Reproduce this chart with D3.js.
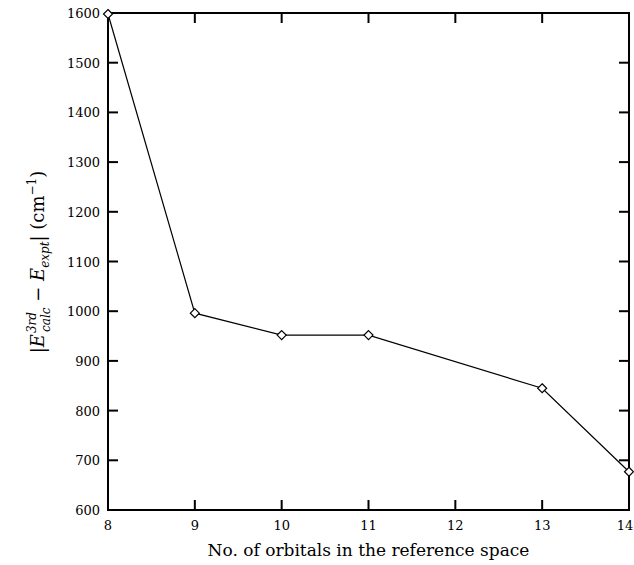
<!DOCTYPE html>
<html><head><meta charset="utf-8">
<script src="https://cdn.jsdelivr.net/npm/d3@7"></script>
<style>body{margin:0;background:#fff}</style>
</head><body>
<svg id="c" width="634" height="565"></svg>
<script>
const orbitals = [8, 9, 10, 11, 13, 14];
const errors = [1598, 996, 952, 952, 845, 677];
const xTicks = [8, 9, 10, 11, 12, 13, 14];
const yTicks = [600, 700, 800, 900, 1000, 1100, 1200, 1300, 1400, 1500, 1600];

const svg = d3.select("#c");
const m = {l:108, r:629, t:13, b:510};
const x = d3.scaleLinear().domain([8,14]).range([m.l, m.r]);
const y = d3.scaleLinear().domain([600,1600]).range([m.b, m.t]);
const font = "'DejaVu Serif', 'Liberation Serif', serif";

const tl = 10;
// ticks
const g = svg.append("g").attr("stroke","#000").attr("stroke-width",2);
xTicks.forEach(t=>{
  g.append("line").attr("x1",x(t)).attr("x2",x(t)).attr("y1",m.b).attr("y2",m.b-tl);
  g.append("line").attr("x1",x(t)).attr("x2",x(t)).attr("y1",m.t).attr("y2",m.t+tl);
});
yTicks.forEach(t=>{
  g.append("line").attr("x1",m.l).attr("x2",m.l+tl).attr("y1",y(t)).attr("y2",y(t));
  g.append("line").attr("x1",m.r).attr("x2",m.r-tl).attr("y1",y(t)).attr("y2",y(t));
});
svg.append("rect").attr("x",m.l).attr("y",m.t).attr("width",m.r-m.l).attr("height",m.b-m.t)
  .attr("fill","none").attr("stroke","#000").attr("stroke-width",2);

// tick labels
svg.append("g").selectAll("text").data(xTicks).join("text")
  .attr("x",d=>Math.min(x(d), 625)).attr("y",m.b+20).attr("text-anchor","middle")
  .attr("font-family",font).attr("font-size",13).text(d=>d);
svg.append("g").selectAll("text").data(yTicks).join("text")
  .attr("x",m.l-8).attr("y",d=>y(d)+5).attr("text-anchor","end")
  .attr("font-family",font).attr("font-size",13).text(d=>d);

// line + markers
const pts = orbitals.map((o,i)=>[o, errors[i]]);
svg.append("path").datum(pts)
  .attr("d", d3.line().x(d=>x(d[0])).y(d=>y(d[1])))
  .attr("fill","none").attr("stroke","#000").attr("stroke-width",1.2);
svg.append("g").selectAll("path").data(pts).join("path")
  .attr("transform",d=>`translate(${x(d[0])},${y(d[1])})`)
  .attr("d","M0,-4.5L4.5,0L0,4.5L-4.5,0Z")
  .attr("fill","#fff").attr("stroke","#000").attr("stroke-width",1.2);

// x title
svg.append("text").attr("x",(m.l+m.r)/2).attr("y",556).attr("text-anchor","middle")
  .attr("font-family",font).attr("font-size",17).text("No. of orbitals in the reference space");

// y title
const yt = svg.append("text").attr("transform","translate(44,262) rotate(-90)")
  .attr("text-anchor","middle").attr("font-family",font).attr("font-size",18);
yt.append("tspan").text("|");
yt.append("tspan").attr("font-style","italic").text("E");
yt.append("tspan").attr("font-style","italic").attr("font-size",12).attr("dy",-8).attr("dx",1).text("3rd");
yt.append("tspan").attr("font-style","italic").attr("font-size",12).attr("dy",14).attr("dx",-20).text("calc");
yt.append("tspan").attr("dy",-6).text(" − ");
yt.append("tspan").attr("font-style","italic").text("E");
yt.append("tspan").attr("font-style","italic").attr("font-size",12).attr("dy",5).text("expt");
yt.append("tspan").attr("dy",-5).text("| (cm");
yt.append("tspan").attr("font-size",12).attr("dy",-8).text("−1");
yt.append("tspan").attr("dy",8).text(")");
</script>
</body></html>
